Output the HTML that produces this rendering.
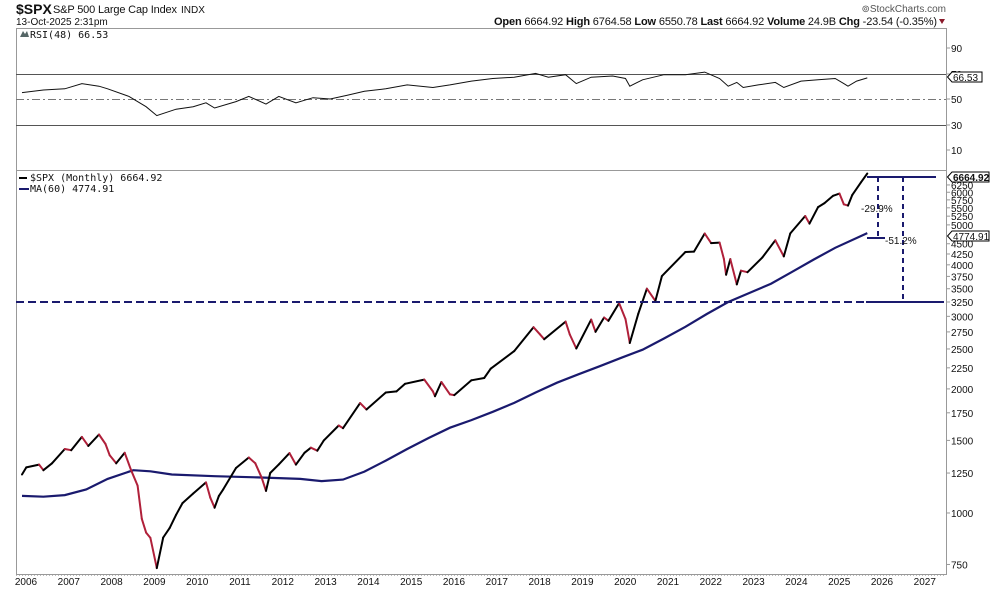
<!DOCTYPE html>
<html><head><meta charset="utf-8"><style>
body{margin:0;background:#fff;width:990px;height:591px;overflow:hidden;font-family:"Liberation Sans",sans-serif}
svg{display:block}
text{font-family:"Liberation Sans",sans-serif;font-size:10px;fill:#111}
.m{font-family:"DejaVu Sans Mono","Liberation Mono",monospace}
</style></head><body>
<svg id="s" width="990" height="591" xmlns="http://www.w3.org/2000/svg">
<text x="16" y="14" style="font-size:14px;font-weight:bold">$SPX</text>
<text x="53" y="13" style="font-size:11px" textLength="124">S&amp;P 500 Large Cap Index</text>
<text x="181" y="13" style="font-size:10px">INDX</text>
<text x="16" y="25" style="font-size:10px">13-Oct-2025 2:31pm</text>
<text x="946" y="12" text-anchor="end" style="font-size:10px;fill:#555">⊚StockCharts.com</text>
<text x="937" y="25" text-anchor="end" style="font-size:11px" textLength="443"><tspan font-weight="bold">Open</tspan> 6664.92  <tspan font-weight="bold">High</tspan> 6764.58  <tspan font-weight="bold">Low</tspan> 6550.78  <tspan font-weight="bold">Last</tspan> 6664.92  <tspan font-weight="bold">Volume</tspan> 24.9B  <tspan font-weight="bold">Chg</tspan> -23.54 (-0.35%)</text>
<path d="M939 19 L945 19 L942 24Z" fill="#8b1a2a"/>
<rect x="16.5" y="28.5" width="930" height="546" fill="none" stroke="#999"/>
<line x1="16" y1="170.5" x2="946" y2="170.5" stroke="#999"/>
<text x="30" y="38" class="m">RSI(48) 66.53</text>
<path d="M20 37 L23 31 L25 34 L27 31 L29 37Z" fill="#566"/>
<line x1="16" y1="74.5" x2="946" y2="74.5" stroke="#555"/>
<line x1="16" y1="125.5" x2="946" y2="125.5" stroke="#555"/>
<line x1="16" y1="99.5" x2="946" y2="99.5" stroke="#777" stroke-dasharray="8,3,2,3"/>
<g id="g"></g>
<text x="30" y="181" class="m">$SPX (Monthly) 6664.92</text>
<line x1="19" y1="178" x2="27" y2="178" stroke="#000" stroke-width="2"/>
<text x="30" y="192" class="m">MA(60) 4774.91</text>
<line x1="19" y1="189" x2="29" y2="189" stroke="#1a1a6e" stroke-width="2"/>
</svg>
<script>
const g=document.getElementById('g');let h='';
const X=t=>22+42.8*(t-2006);
const Y=v=>302-179*Math.log(v/3250);
const R=r=>99-1.28*(r-50);
[[90,48],[70,74],[50,99],[30,125],[10,150]].forEach(([v,y])=>{h+=`<line x1="946" y1="${y}" x2="950" y2="${y}" stroke="#999"/><text x="951" y="${y+4}">${v}</text>`});
[6250,6000,5750,5500,5250,5000,4500,4250,4000,3750,3500,3250,3000,2750,2500,2250,2000,1750,1500,1250,1000,750].forEach(v=>{const y=Y(v);h+=`<line x1="946" y1="${y}" x2="950" y2="${y}" stroke="#999"/><text x="951" y="${y+4}">${v}</text>`});
for(let yr=2006;yr<=2027;yr++){const x=26+42.8*(yr-2006);h+=`<text x="${x}" y="585" text-anchor="middle">${yr}</text>`;}
h+=`<line x1="16" y1="575.5" x2="946" y2="575.5" stroke="#bbb" stroke-dasharray="1,2"/>`;
const rs=[[2006,55],[2006.5,57],[2007,58],[2007.4,62],[2007.8,60],[2008,58],[2008.5,52],[2008.9,44],[2009.15,37],[2009.6,42],[2010,44],[2010.3,47],[2010.5,43],[2011,48],[2011.3,52],[2011.7,46],[2012,52],[2012.4,47],[2012.8,51],[2013.2,50],[2013.6,53],[2014,56],[2014.5,58],[2015,61],[2015.6,59],[2016,61],[2016.5,64],[2017,66],[2017.5,67],[2018,70],[2018.3,67],[2018.7,69],[2018.95,62],[2019.3,67],[2019.8,68],[2020.1,66],[2020.2,60],[2020.5,65],[2021,69],[2021.5,69],[2021.95,71],[2022.3,66],[2022.5,60],[2022.7,63],[2022.85,59],[2023.2,61],[2023.6,63],[2023.8,59],[2024.2,64],[2024.6,65],[2025,66],[2025.2,62],[2025.3,60],[2025.5,64],[2025.75,66.5]];
h+=`<polyline fill="none" stroke="#111" stroke-width="1" points="${rs.map(([t,r])=>X(t).toFixed(1)+','+R(r).toFixed(1)).join(' ')}"/>`;
h+=`<path d="M947.5 77 L952 72 L982 72 L982 82 L952 82Z" fill="#fff" stroke="#000"/><text x="953" y="81">66.53</text>`;
const ma=[[2006,1100],[2006.5,1095],[2007,1105],[2007.5,1140],[2008,1210],[2008.6,1270],[2009,1262],[2009.5,1240],[2010.5,1228],[2011.5,1220],[2012.5,1210],[2013,1195],[2013.5,1205],[2014,1260],[2014.5,1340],[2015,1430],[2015.5,1520],[2016,1610],[2016.5,1680],[2017,1760],[2017.5,1850],[2018,1960],[2018.5,2070],[2019,2170],[2019.5,2270],[2020,2380],[2020.5,2490],[2021,2650],[2021.5,2830],[2022,3040],[2022.5,3250],[2023,3420],[2023.5,3600],[2024,3850],[2024.5,4120],[2025,4400],[2025.75,4775]];
h+=`<polyline fill="none" stroke="#1a1a6e" stroke-width="2.2" points="${ma.map(([t,v])=>X(t).toFixed(1)+','+Y(v).toFixed(1)).join(' ')}"/>`;
const p=[[2006,1240],[2006.1,1290],[2006.4,1310],[2006.5,1270],[2006.7,1320],[2007,1430],[2007.15,1420],[2007.4,1530],[2007.55,1455],[2007.8,1550],[2007.95,1470],[2008.05,1380],[2008.2,1320],[2008.4,1400],[2008.55,1270],[2008.7,1165],[2008.8,968],[2008.9,896],[2009.0,870],[2009.15,735],[2009.3,872],[2009.45,920],[2009.6,990],[2009.75,1057],[2010,1115],[2010.3,1186],[2010.4,1089],[2010.5,1030],[2010.6,1100],[2010.7,1141],[2011,1286],[2011.3,1363],[2011.45,1320],[2011.6,1218],[2011.7,1131],[2011.8,1250],[2012,1312],[2012.25,1397],[2012.4,1310],[2012.6,1400],[2012.75,1440],[2012.9,1416],[2013.05,1498],[2013.4,1630],[2013.5,1606],[2013.9,1848],[2014.05,1783],[2014.5,1960],[2014.75,1972],[2014.95,2058],[2015.4,2107],[2015.6,1972],[2015.65,1920],[2015.8,2079],[2016.0,1940],[2016.1,1932],[2016.5,2098],[2016.8,2126],[2016.95,2239],[2017.5,2470],[2017.95,2823],[2018.1,2713],[2018.2,2640],[2018.7,2913],[2018.8,2711],[2018.95,2506],[2019.3,2945],[2019.4,2752],[2019.6,2980],[2019.7,2926],[2019.95,3230],[2020.1,2954],[2020.2,2585],[2020.4,3044],[2020.6,3500],[2020.8,3270],[2020.95,3756],[2021.5,4297],[2021.7,4307],[2021.95,4766],[2022.1,4516],[2022.3,4530],[2022.4,4132],[2022.45,3785],[2022.55,4130],[2022.7,3585],[2022.8,3872],[2022.95,3839],[2023.3,4169],[2023.6,4588],[2023.8,4193],[2023.95,4769],[2024.3,5254],[2024.4,5035],[2024.6,5522],[2024.75,5648],[2024.95,5881],[2025.1,5954],[2025.2,5611],[2025.3,5569],[2025.4,5911],[2025.6,6339],[2025.75,6664]];
for(let i=1;i<p.length;i++){const [t0,v0]=p[i-1],[t1,v1]=p[i];h+=`<line x1="${X(t0).toFixed(1)}" y1="${Y(v0).toFixed(1)}" x2="${X(t1).toFixed(1)}" y2="${Y(v1).toFixed(1)}" stroke="${v1<v0?'#b0203a':'#000'}" stroke-width="2" stroke-linecap="round"/>`;}
const nv="#1a1a6e",y3=Y(3250);
h+=`<line x1="16" y1="${y3}" x2="866" y2="${y3}" stroke="${nv}" stroke-width="2" stroke-dasharray="8,4"/><line x1="866" y1="${y3}" x2="944" y2="${y3}" stroke="${nv}" stroke-width="2"/>`;
h+=`<line x1="867" y1="177" x2="936" y2="177" stroke="${nv}" stroke-width="2"/>`;
h+=`<line x1="867" y1="238" x2="885" y2="238" stroke="${nv}" stroke-width="2"/>`;
h+=`<line x1="878" y1="177" x2="878" y2="238" stroke="${nv}" stroke-width="2" stroke-dasharray="5,4"/>`;
h+=`<line x1="903" y1="177" x2="903" y2="${y3}" stroke="${nv}" stroke-width="2" stroke-dasharray="5,4"/>`;
h+=`<text x="861" y="212">-29.9%</text><text x="885" y="244">-51.2%</text>`;
h+=`<path d="M947.5 177 L952 172 L989 172 L989 182 L952 182Z" fill="#fff" stroke="#000"/><text x="953" y="181" font-weight="bold">6664.92</text>`;
h+=`<path d="M947.5 236 L952 231 L989 231 L989 241 L952 241Z" fill="#fff" stroke="#000"/><text x="953" y="240">4774.91</text>`;
g.innerHTML=h;
</script>
</body></html>
